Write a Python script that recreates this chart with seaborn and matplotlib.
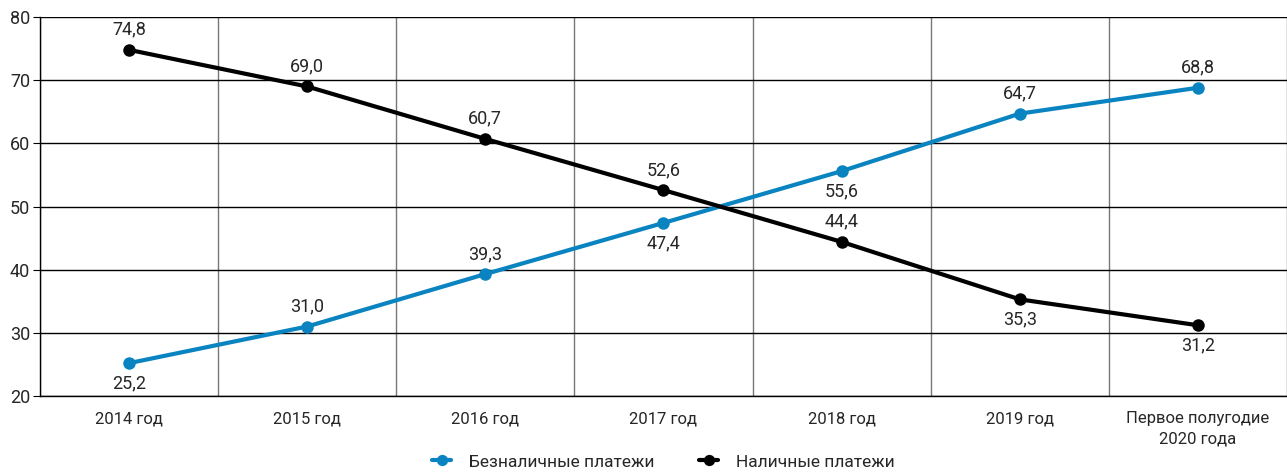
import matplotlib
matplotlib.use("Agg")
import matplotlib.pyplot as plt
import seaborn as sns
import pandas as pd
import numpy as np

# data
periods = ["2014 год", "2015 год", "2016 год", "2017 год", "2018 год", "2019 год",
           "Первое полугодие\n2020 года"]
cashless = [25.2, 31.0, 39.3, 47.4, 55.6, 64.7, 68.8]
cash = [74.8, 69.0, 60.7, 52.6, 44.4, 35.3, 31.2]
series_names = ["Безналичные платежи", "Наличные платежи"]
colors = ["#0a84c1", "#000000"]

# label above (+1) or below (-1) the point
cashless_pos = [-1, 1, 1, -1, -1, 1, 1]
cash_pos = [1, 1, 1, 1, 1, -1, -1]

sns.set_style("white")
plt.rcParams["font.family"] = ["Roboto", "DejaVu Sans"]

df = pd.DataFrame({
    "x": list(range(len(periods))) * 2,
    "value": cashless + cash,
    "series": [series_names[0]] * len(periods) + [series_names[1]] * len(periods),
})

fig = plt.figure(figsize=(12.87, 4.72), dpi=100)
ax = fig.add_axes([0.031, 0.161, 0.969, 0.803])

sns.lineplot(data=df, x="x", y="value", hue="series", palette=colors,
             marker="o", markersize=9, markeredgewidth=0, linewidth=3,
             ax=ax, zorder=3)

ax.set_xlim(-0.5, len(periods) - 0.5)
ax.set_ylim(20, 80)
ax.set_yticks(np.arange(20, 81, 10))
ax.set_xticks(range(len(periods)))
ax.set_xticklabels(periods, linespacing=1.45)
ax.set_xticks(np.arange(-0.5, len(periods), 1), minor=True)
ax.set_xlabel("")
ax.set_ylabel("")

ax.yaxis.grid(True, color="black", linewidth=1)
ax.xaxis.grid(True, which="minor", color="#777777", linewidth=1)
ax.set_axisbelow(True)
ax.tick_params(axis="x", which="major", length=0, labelsize=12, pad=11)
ax.tick_params(axis="x", which="minor", length=5, color="black", direction="out")
ax.tick_params(axis="y", length=5, color="black", direction="out", labelsize=13, pad=2)
ax.tick_params(left=True, bottom=True)

for s in ["top", "right"]:
    ax.spines[s].set_visible(False)
for s in ["left", "bottom"]:
    ax.spines[s].set_color("black")
    ax.spines[s].set_linewidth(1)

def fmt(v):
    return f"{v:.1f}".replace(".", ",")

for vals, pos in [(cashless, cashless_pos), (cash, cash_pos)]:
    for i, (v, p) in enumerate(zip(vals, pos)):
        ax.annotate(fmt(v), (i, v), xytext=(0, 8 * p), textcoords="offset points",
                    ha="center", va="bottom" if p > 0 else "top", fontsize=13)

ax.legend(loc="center", bbox_to_anchor=(0.5, -0.174), ncol=2, frameon=False,
          fontsize=12.5, handlelength=1.1, handletextpad=1.0, columnspacing=2.6,
          markerscale=0.9, borderpad=0, borderaxespad=0)

fig.savefig("out.png", dpi=100)
